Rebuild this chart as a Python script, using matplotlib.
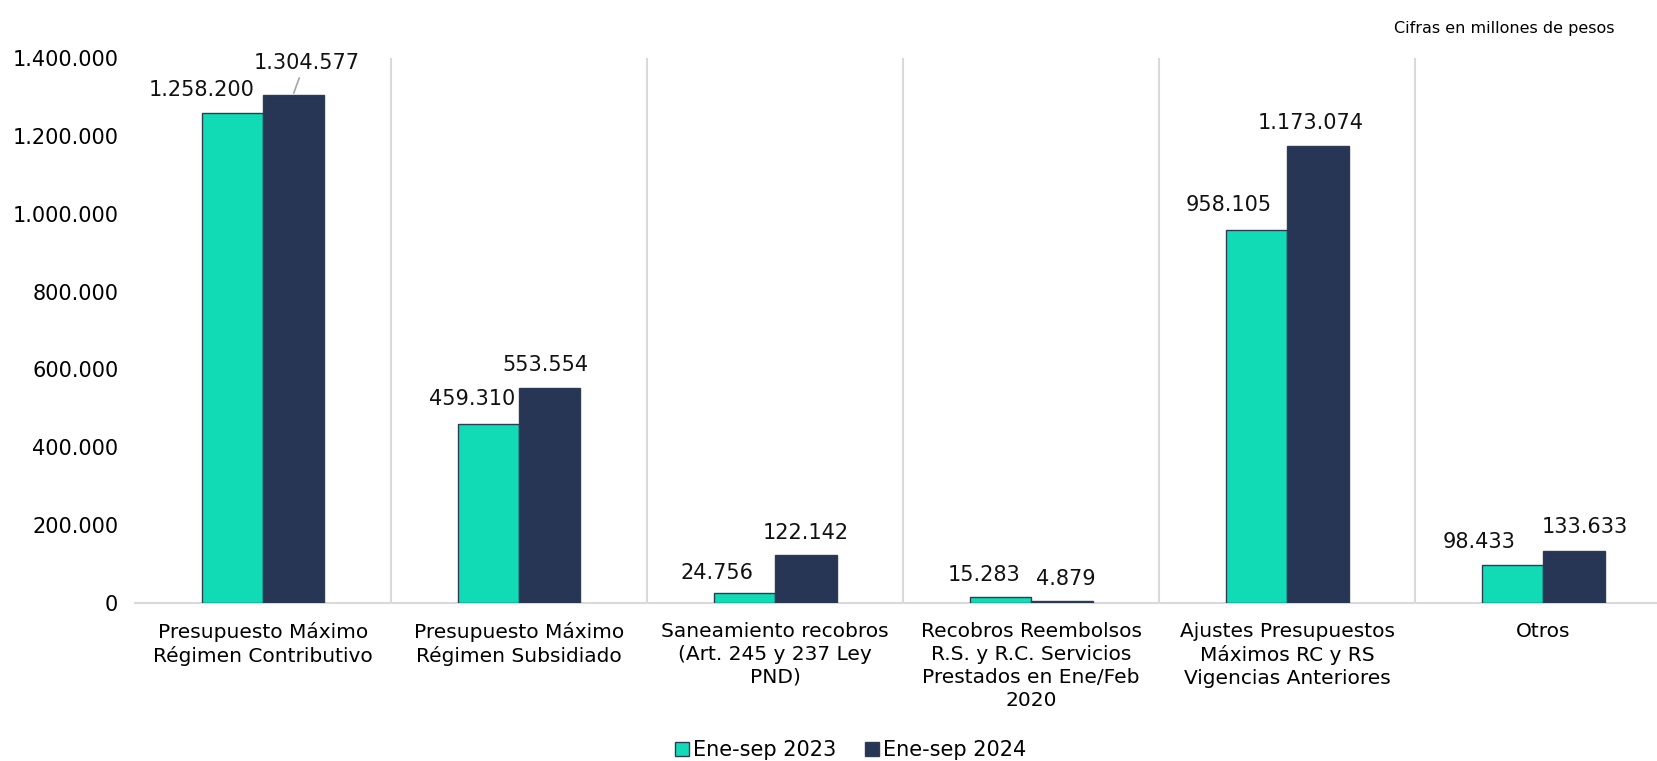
import matplotlib
matplotlib.use("Agg")
import matplotlib.pyplot as plt
import numpy as np

# datos (millones de pesos)
categorias = [
    "Presupuesto Máximo\nRégimen Contributivo",
    "Presupuesto Máximo\nRégimen Subsidiado",
    "Saneamiento recobros\n(Art. 245 y 237 Ley\nPND)",
    "Recobros Reembolsos\nR.S. y R.C. Servicios\nPrestados en Ene/Feb\n2020",
    "Ajustes Presupuestos\nMáximos RC y RS\nVigencias Anteriores",
    "Otros",
]
serie_2023 = [1258200, 459310, 24756, 15283, 958105, 98433]
serie_2024 = [1304577, 553554, 122142, 4879, 1173074, 133633]
nombres = ["Ene-sep 2023", "Ene-sep 2024"]
yticks = [0, 200000, 400000, 600000, 800000, 1000000, 1200000, 1400000]

# desplazamiento de las etiquetas (puntos)
off_2023 = [(-22, 17), (-12, 18), (-20, 15), (-12, 16), (-20, 18), (-24, 16)]
off_2024 = [(9, 23), (-3, 16), (0, 16), (3, 16), (-5, 17), (8, 17)]

verde = "#10dbb5"
azul = "#283655"
borde = "#2e3b57"
gris = "#d9d9d9"


def fmt(v):
    return f"{v:,.0f}".replace(",", ".")


plt.rcParams['font.family'] = ['DejaVu Sans']
fig = plt.figure(figsize=(16.58, 7.61), dpi=100)
ax = fig.add_axes([0.0814, 0.2076, 0.9266, 0.7162])

x = np.arange(len(categorias))
w = 0.24
b1 = ax.bar(x - w / 2, serie_2023, w, color=verde, edgecolor=borde, linewidth=1, label=nombres[0], zorder=3)
b2 = ax.bar(x + w / 2, serie_2024, w, color=azul, edgecolor=borde, linewidth=1, label=nombres[1], zorder=3)

for i in range(len(categorias)):
    ax.annotate(fmt(serie_2023[i]), (x[i] - w / 2, serie_2023[i]), xytext=off_2023[i],
                textcoords="offset points", ha="center", va="center", fontsize=15, color="#111111")
    ax.annotate(fmt(serie_2024[i]), (x[i] + w / 2, serie_2024[i]), xytext=off_2024[i],
                textcoords="offset points", ha="center", va="center", fontsize=15, color="#111111")

# linea guia de la primera etiqueta
ax.annotate("", (x[0] + w / 2, serie_2024[0] + 5000), xytext=(4, 11), textcoords="offset points",
            arrowprops=dict(arrowstyle="-", color="#a6a6a6", lw=1.2, shrinkA=0, shrinkB=0))

# separadores verticales
for s in x[1:] - 0.5:
    ax.axvline(s, color=gris, lw=1.5, zorder=1)

ax.set_xlim(-0.5, len(categorias) - 0.5)
ax.set_ylim(0, 1400000)
ax.set_yticks(yticks)
ax.set_yticklabels([fmt(v) for v in yticks], fontsize=15)
ax.set_xticks(x)
ax.set_xticklabels(categorias, fontsize=14.5, linespacing=1.25)
ax.tick_params(axis="both", length=0)
ax.tick_params(axis="x", pad=14)
ax.tick_params(axis="y", pad=12)

for lado in ["top", "right", "left"]:
    ax.spines[lado].set_visible(False)
ax.spines["bottom"].set_color(gris)
ax.spines["bottom"].set_linewidth(1.5)

fig.text(0.974, 0.962, "Cifras en millones de pesos", ha="right", va="center", fontsize=11.5)

fig.legend(loc="center", bbox_to_anchor=(0.513, 0.014), ncol=2, frameon=False, fontsize=15,
           handlelength=0.65, handleheight=0.65, handletextpad=0.2, columnspacing=1.4)

fig.savefig("out.png", dpi=100)
